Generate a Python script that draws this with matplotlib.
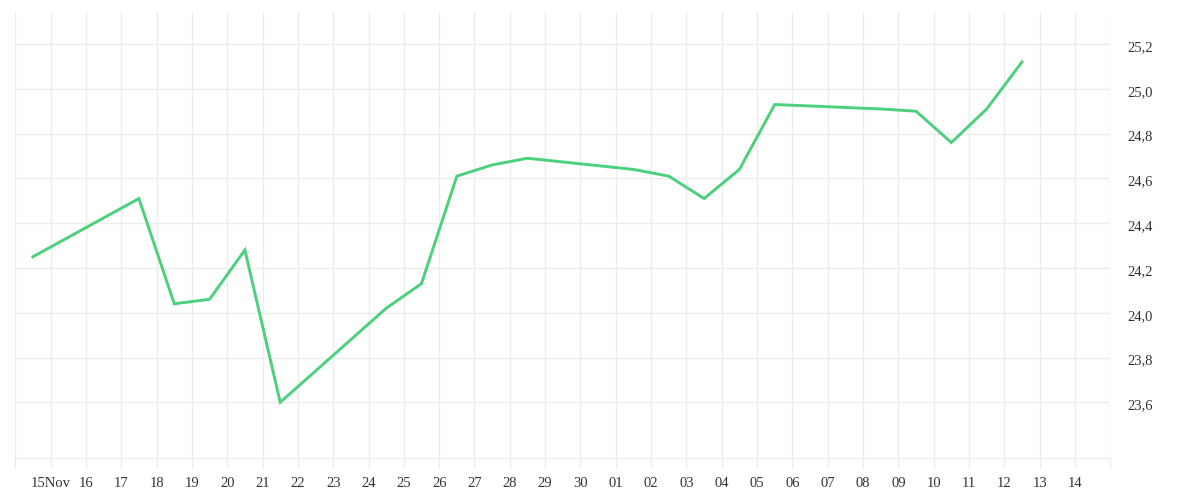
import matplotlib
matplotlib.use("Agg")
import matplotlib.pyplot as plt
import matplotlib.transforms as mtransforms
from datetime import datetime, timedelta

plt.rcParams['font.family'] = ['Liberation Serif', 'DejaVu Serif']

# business days, Nov-Dec 2014
dates = ["2014-11-14", "2014-11-17", "2014-11-18", "2014-11-19", "2014-11-20",
         "2014-11-21", "2014-11-24", "2014-11-25", "2014-11-26", "2014-11-27",
         "2014-11-28", "2014-12-01", "2014-12-02", "2014-12-03", "2014-12-04",
         "2014-12-05", "2014-12-08", "2014-12-09", "2014-12-10", "2014-12-11",
         "2014-12-12"]
values = [24.25, 24.51, 24.04, 24.06, 24.28,
          23.60, 24.02, 24.13, 24.61, 24.66,
          24.69, 24.64, 24.61, 24.51, 24.64,
          24.93, 24.91, 24.90, 24.76, 24.91,
          25.12]
y_ticks = [23.6, 23.8, 24.0, 24.2, 24.4, 24.6, 24.8, 25.0, 25.2]

line_color = "#4cd07c"
grid_color = "#ececec"
text_color = "#333333"

# points sit in the middle of each day
x = [datetime.strptime(d, "%Y-%m-%d") + timedelta(hours=12) for d in dates]

fig = plt.figure(figsize=(12, 5), dpi=100)
ax = fig.add_axes([0.01275, 0.0834, 0.9125, 0.8926])

ax.plot(x, values, color=line_color, linewidth=2.1, solid_joinstyle='miter', zorder=3)

start = datetime(2014, 11, 14)
end = datetime(2014, 12, 15)
ax.set_xlim(start, end)
ax.set_ylim(23.35, 25.343)

days = [start + timedelta(days=i) for i in range((end - start).days + 1)]
labels = []
for d in days:
    if d == start or d == end:
        labels.append("")
    elif d.day == 15 and d.month == 11:
        labels.append("15Nov")
    else:
        labels.append(d.strftime("%d"))
ax.set_xticks(days)
ax.set_xticklabels(labels)

ax.yaxis.tick_right()
ax.set_yticks(y_ticks)
ax.set_yticklabels([f"{v:.1f}".replace(".", ",") for v in y_ticks])

ax.grid(True, color=grid_color, linewidth=1.0)
ax.set_axisbelow(True)

for side in ['top', 'left', 'right']:
    ax.spines[side].set_visible(False)
ax.spines['bottom'].set_color(grid_color)
ax.spines['bottom'].set_linewidth(1.0)

ax.tick_params(axis='x', length=7.5, width=1.0, color=grid_color, pad=6,
               labelsize=10.5, labelcolor=text_color)
ax.tick_params(axis='y', length=0, pad=12, labelsize=10.5, labelcolor=text_color)

# y labels sit a touch below their grid lines
shift = mtransforms.ScaledTranslation(0, -2.5 / 72, fig.dpi_scale_trans)
for lbl in ax.get_yticklabels():
    lbl.set_verticalalignment('center')
    lbl.set_transform(lbl.get_transform() + shift)

fig.savefig("out.png", dpi=100, facecolor="white")
